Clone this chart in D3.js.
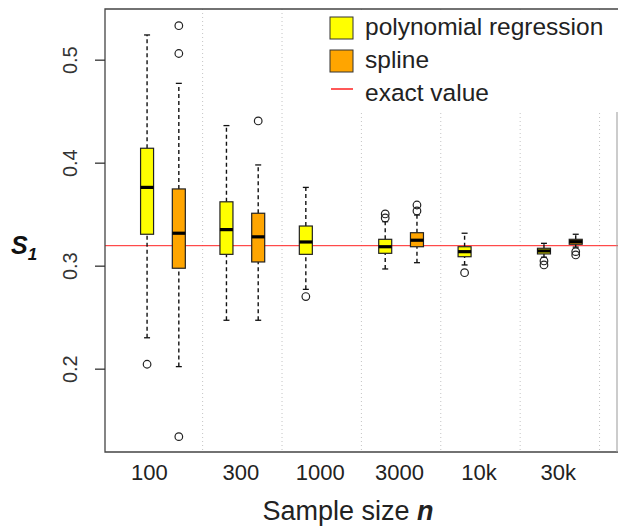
<!DOCTYPE html>
<meta charset="utf-8">
<script src="https://d3js.org/d3.v7.min.js"></script>
<style>
  body { margin: 0; background: #fff; }
  text { font-family: "Liberation Sans", Arial, sans-serif; }
</style>
<div id="chart"></div>
<script>
  // values
  const groups = ["100", "300", "1000", "3000", "10k", "30k"];
  // [lower whisker, Q1, median, Q3, upper whisker]
  const polyBoxes = [
    [0.230, 0.3305, 0.376, 0.414, 0.524],
    [0.247, 0.311, 0.335, 0.362, 0.436],
    [0.277, 0.311, 0.323, 0.3385, 0.376],
    [0.2968, 0.312, 0.3184, 0.3256, 0.3427],
    [0.3007, 0.3087, 0.3136, 0.3184, 0.3315],
    [0.3082, 0.3114, 0.3143, 0.3169, 0.3217]
  ];
  const splineBoxes = [
    [0.202, 0.2975, 0.3315, 0.3745, 0.477],
    [0.247, 0.3036, 0.328, 0.3509, 0.3978],
    null,
    [0.3029, 0.3184, 0.3247, 0.332, 0.3492],
    null,
    [0.318, 0.3208, 0.3233, 0.3256, 0.3305]
  ];
  const polyOutliers = [[0.2043], [], [0.270], [0.3502, 0.3463], [0.2932], [0.3046, 0.3007]];
  const splineOutliers = [[0.533, 0.506, 0.134], [0.4405], [], [0.3589, 0.3531], [], [0.3136, 0.3104]];
  const exactValue = 0.3194;
  const yTicks = [0.2, 0.3, 0.4, 0.5];

  const W = 618, H = 526;
  const pLeft = 105, pRight = 617, pTop = 9, pBottom = 452;

  const svg = d3.select("#chart").append("svg")
    .attr("width", W).attr("height", H);

  const x = d3.scaleLinear().domain([-0.73, 5.72]).range([pLeft, pRight]);
  const y = d3.scaleLinear().domain([0.1191, 0.5492]).range([pBottom, pTop]);
  const off = 0.2, boxW = 13, capW = 6;

  // dotted separators between groups
  svg.selectAll(".sep")
    .data(groups)
    .enter()
    .append("line")
    .attr("x1", (d, i) => x(i + 0.5)).attr("x2", (d, i) => x(i + 0.5))
    .attr("y1", pTop).attr("y2", pBottom)
    .attr("stroke", "#c4c4c4").attr("stroke-width", 1)
    .attr("stroke-dasharray", "1,3");

  // exact value line
  svg.append("line")
    .attr("x1", pLeft).attr("x2", W)
    .attr("y1", y(exactValue)).attr("y2", y(exactValue))
    .attr("stroke", "#ff2020").attr("stroke-width", 1);

  function drawSeries(boxes, outliers, shift, fill) {
    boxes.forEach(function (b, i) {
      const cx = x(i + shift);
      const g = svg.append("g");
      if (b) {
        // whiskers
        [[b[0], b[1]], [b[3], b[4]]].forEach(function (w) {
          g.append("line")
            .attr("x1", cx).attr("x2", cx)
            .attr("y1", y(w[0])).attr("y2", y(w[1]))
            .attr("stroke", "#111").attr("stroke-width", 1.4)
            .attr("stroke-dasharray", "4,3");
        });
        [b[0], b[4]].forEach(function (v) {
          g.append("line")
            .attr("x1", cx - capW / 2).attr("x2", cx + capW / 2)
            .attr("y1", y(v)).attr("y2", y(v))
            .attr("stroke", "#111").attr("stroke-width", 1.3);
        });
        g.append("rect")
          .attr("x", cx - boxW / 2).attr("width", boxW)
          .attr("y", y(b[3])).attr("height", y(b[1]) - y(b[3]))
          .attr("fill", fill).attr("stroke", "#222").attr("stroke-width", 1.2);
        g.append("line")
          .attr("x1", cx - boxW / 2).attr("x2", cx + boxW / 2)
          .attr("y1", y(b[2])).attr("y2", y(b[2]))
          .attr("stroke", "#000").attr("stroke-width", 3.2);
      }
      outliers[i].forEach(function (v) {
        g.append("circle")
          .attr("cx", cx).attr("cy", y(v)).attr("r", 3.8)
          .attr("fill", "none").attr("stroke", "#222").attr("stroke-width", 1.2);
      });
    });
  }
  drawSeries(polyBoxes, polyOutliers, -off, "#ffff00");
  drawSeries(splineBoxes, splineOutliers, off, "#ffa500");

  // frame
  svg.append("path")
    .attr("d", `M${W},${pTop}H${pLeft}V${pBottom}H${W}`)
    .attr("fill", "none").attr("stroke", "#444").attr("stroke-width", 1.3);
  svg.append("path")
    .attr("d", `M612,80H${pRight}V${pBottom}`)
    .attr("fill", "none").attr("stroke", "#999").attr("stroke-width", 1);

  // y axis
  const yAxis = svg.append("g")
    .attr("transform", `translate(${pLeft},0)`)
    .call(d3.axisLeft(y).tickValues(yTicks).tickSize(10).tickFormat(d3.format(".1f")));
  yAxis.select(".domain").remove();
  yAxis.selectAll(".tick line").attr("stroke", "#333").attr("stroke-width", 1.3);
  yAxis.selectAll(".tick text")
    .attr("x", 0).attr("dy", 0)
    .attr("transform", "translate(-28,0) rotate(-90)")
    .attr("text-anchor", "middle")
    .style("font-size", "20px")
    .attr("fill", "#333");

  // x axis labels
  const xAxis = svg.append("g")
    .attr("transform", `translate(0,${pBottom})`)
    .call(d3.axisBottom(x).tickValues(d3.range(groups.length)).tickSize(0).tickFormat(i => groups[i]));
  xAxis.select(".domain").remove();
  xAxis.selectAll(".tick text")
    .attr("y", 28).attr("dy", 0)
    .attr("dx", (d, i) => i === 0 ? -14 : -2)
    .style("font-size", "22px")
    .attr("fill", "#222");

  // axis titles
  const xt = svg.append("text")
    .attr("x", 348).attr("y", 520)
    .attr("text-anchor", "middle")
    .style("font-size", "27px")
    .attr("fill", "#222");
  xt.append("tspan").text("Sample size ");
  xt.append("tspan").text("n").style("font-weight", "bold").style("font-style", "italic");

  const yt = svg.append("text")
    .attr("x", 11).attr("y", 254)
    .style("font-size", "25px")
    .style("font-weight", "bold").style("font-style", "italic")
    .attr("fill", "#111");
  yt.append("tspan").text("S");
  yt.append("tspan").text("1").attr("dy", 6).style("font-size", "17px");

  // legend
  const legend = svg.append("g");
  legend.append("rect")
    .attr("x", 322).attr("y", pTop + 1).attr("width", W - 322).attr("height", 102)
    .attr("fill", "#fff");
  const legItems = [
    { label: "polynomial regression", fill: "#ffff00" },
    { label: "spline", fill: "#ffa500" },
    { label: "exact value", line: "#ff2020" }
  ];
  legItems.forEach(function (d, i) {
    const ly = 28 + i * 33;
    if (d.fill) {
      legend.append("rect")
        .attr("x", 330).attr("y", ly - 11).attr("width", 23).attr("height", 22)
        .attr("fill", d.fill).attr("stroke", "#333").attr("stroke-width", 1);
    } else {
      legend.append("line")
        .attr("x1", 331).attr("x2", 353).attr("y1", ly - 5).attr("y2", ly - 5)
        .attr("stroke", d.line).attr("stroke-width", 1.5);
    }
    legend.append("text")
      .attr("x", 365).attr("y", ly + 7)
      .style("font-size", "24.5px")
      .attr("fill", "#222")
      .text(d.label);
  });
</script>
